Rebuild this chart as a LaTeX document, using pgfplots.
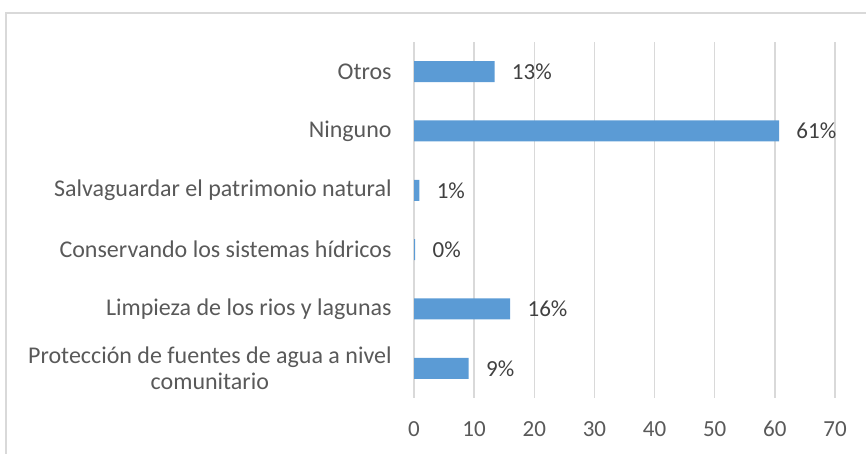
\documentclass[border=0pt]{standalone}
\usepackage{fontspec}
\setmainfont{Carlito}
\usepackage{pgfplots}
\pgfplotsset{compat=1.18}
\definecolor{barblue}{HTML}{5B9BD5}
\definecolor{gridgray}{HTML}{D9D9D9}
\definecolor{txtgray}{HTML}{595959}
\definecolor{lblgray}{HTML}{404040}
\begin{document}
\begin{tikzpicture}[font=\fontsize{11.5pt}{13.8pt}\selectfont]
\useasboundingbox (0,0) rectangle (433pt,227pt);
\draw[gridgray, line width=0.75pt] (3pt,-5pt) -- (3pt,220.5pt) -- (440pt,220.5pt);
\begin{axis}[at={(207pt,28pt)}, anchor=south west, scale only axis,
  width=210.5pt, height=178pt,
  xbar, bar width=10.5pt,
  xmin=0, xmax=70, ymin=-0.5, ymax=5.5,
  xtick={0,10,...,70}, ytick={0,...,5},
  yticklabels={{Protección de fuentes de agua a nivel\\comunitario},
    {Limpieza de los rios y lagunas},
    {Conservando los sistemas hídricos},
    {Salvaguardar el patrimonio natural},
    {Ninguno},
    {Otros}},
  axis line style={draw=none}, tick style={draw=none}, major tick length=0pt,
  xmajorgrids, grid style={gridgray, line width=0.75pt},
  /pgf/number format/assume math mode=true,
  xticklabel style={anchor=base, yshift=-19.5pt, text=txtgray, font=\fontsize{11.5pt}{13.8pt}\selectfont},
  yticklabel style={anchor=east, inner sep=0pt, xshift=-11pt, align=center, text=txtgray, font=\fontsize{12pt}{12.8pt}\selectfont},
  nodes near coords, point meta=explicit symbolic,
  nodes near coords style={anchor=west, inner sep=0pt, xshift=8.5pt, text=lblgray, font=\fontsize{11.5pt}{13.8pt}\selectfont},
]
\addplot[fill=barblue, draw=none] coordinates {
  (9.1,0) [9\%]
  (16.0,1) [16\%]
  (0.2,2) [0\%]
  (0.9,3) [1\%]
  (60.7,4) [61\%]
  (13.4,5) [13\%]
};
\end{axis}
\end{tikzpicture}
\end{document}
